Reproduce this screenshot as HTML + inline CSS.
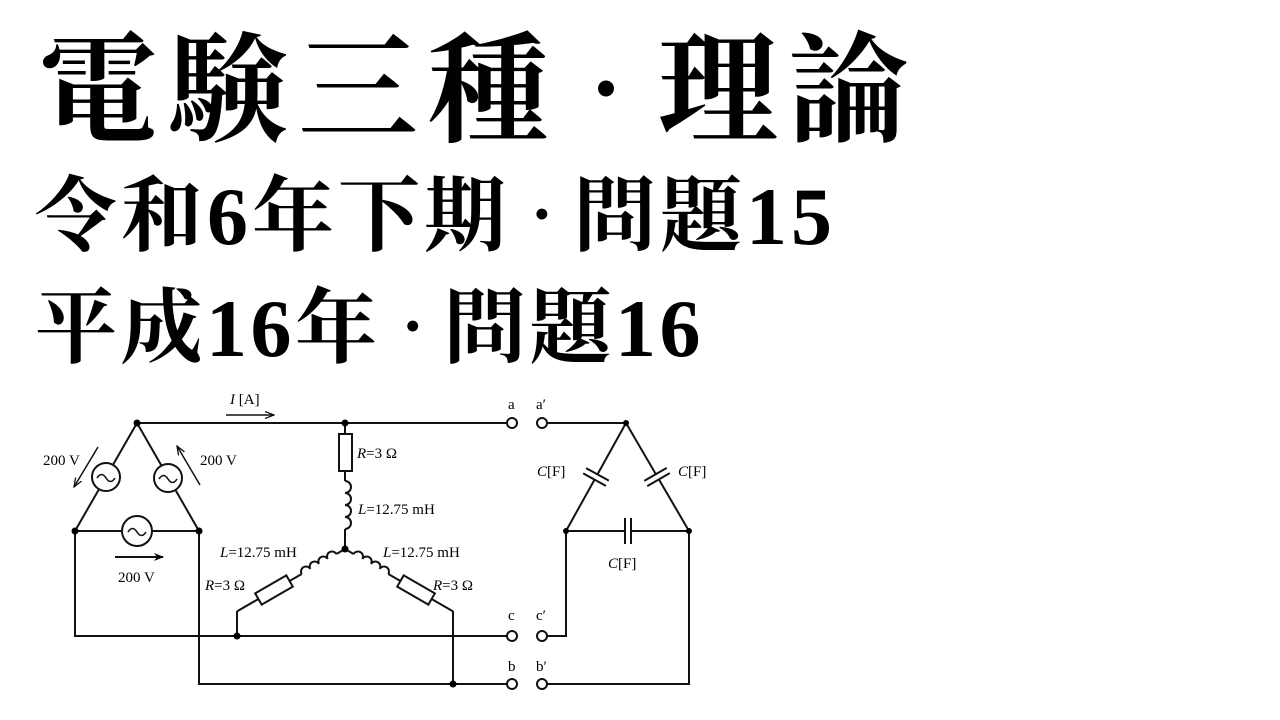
<!DOCTYPE html>
<html><head><meta charset="utf-8"><style>
html,body{margin:0;padding:0;background:#fff;}
body{width:1280px;height:720px;position:relative;overflow:hidden;}
.t{position:absolute;left:0;white-space:nowrap;font-family:"Liberation Serif","Noto Serif CJK SC",serif;font-weight:700;color:#000;line-height:1;}
.d{display:inline-block;}
svg{position:absolute;left:0;top:0;}
svg text{font-family:"Liberation Serif","Noto Serif CJK SC",serif;font-size:15px;fill:#000;}
</style></head><body>
<div class="t" style="top:32px;left:38px;font-size:120px;letter-spacing:10px;">電験三種<span class="d" style="margin:0 -16px 0 -14px;transform:scale(0.6);">・</span>理論</div>
<div class="t" style="top:176px;left:35px;font-size:82px;letter-spacing:4px;">令和6年下期<span class="d" style="margin:0 -12px 0 -10px;transform:scale(0.6);">・</span>問題15</div>
<div class="t" style="top:288px;left:35px;font-size:82px;letter-spacing:3.5px;">平成16年<span class="d" style="margin:0 -12px 0 -10px;transform:scale(0.6);">・</span>問題16</div>
<svg width="1280" height="720" viewBox="0 0 1280 720">
<defs>
<marker id="ah" markerWidth="10" markerHeight="8" refX="9" refY="4" orient="auto" markerUnits="userSpaceOnUse"><path d="M0,0 L10,4 L0,8 L3,4 z" fill="#000"/></marker>
<marker id="ao" markerWidth="10" markerHeight="8" refX="9" refY="4" orient="auto" markerUnits="userSpaceOnUse"><path d="M0,0.5 L9,4 L0,7.5" fill="none" stroke="#000" stroke-width="1.2"/></marker>
</defs>
<g stroke="#111" stroke-width="2" fill="none">
<line x1="137" y1="423" x2="75" y2="531"/>
<line x1="137" y1="423" x2="199" y2="531"/>
<line x1="75" y1="531" x2="199" y2="531"/>
<circle cx="106" cy="477" r="14" fill="#fff"/>
<circle cx="168" cy="478" r="14" fill="#fff"/>
<circle cx="137" cy="531" r="15" fill="#fff"/>
<path d="M97 478 q4.5 -7 9 0 t9 0" stroke-width="1.6"/>
<path d="M159 479 q4.5 -7 9 0 t9 0" stroke-width="1.6"/>
<path d="M128 532 q4.5 -7 9 0 t9 0" stroke-width="1.6"/>
<line x1="137" y1="423" x2="507" y2="423"/>
<polyline points="75,531 75,636 507,636"/>
<polyline points="199,531 199,684 507,684"/>
<line x1="345" y1="423" x2="345" y2="434"/>
<rect x="339" y="434" width="13" height="37" fill="#fff"/>
<line x1="345" y1="471" x2="345" y2="481"/>
<path d="M345 481 a6 6 0 0 1 0 12 a6 6 0 0 1 0 12 a6 6 0 0 1 0 12 a6 6 0 0 1 0 12"/>
<line x1="345" y1="529" x2="345" y2="549"/>
<g transform="translate(345,549) rotate(150)">
<line x1="0" y1="0" x2="10" y2="0"/>
<path d="M10 0 a5 5 0 0 0 10 0 a5 5 0 0 0 10 0 a5 5 0 0 0 10 0 a5 5 0 0 0 10 0"/>
<line x1="50" y1="0" x2="64" y2="0"/>
<rect x="64" y="-6.5" width="36" height="13" fill="#fff"/>
<line x1="100" y1="0" x2="124.5" y2="0"/>
</g>
<g transform="translate(345,549) rotate(30)">
<line x1="0" y1="0" x2="10" y2="0"/>
<path d="M10 0 a5 5 0 0 1 10 0 a5 5 0 0 1 10 0 a5 5 0 0 1 10 0 a5 5 0 0 1 10 0"/>
<line x1="50" y1="0" x2="64" y2="0"/>
<rect x="64" y="-6.5" width="36" height="13" fill="#fff"/>
<line x1="100" y1="0" x2="124.5" y2="0"/>
</g>
<line x1="237" y1="611" x2="237" y2="636"/>
<line x1="453" y1="611" x2="453" y2="684"/>
<circle cx="512" cy="423" r="5" fill="#fff"/>
<circle cx="542" cy="423" r="5" fill="#fff"/>
<circle cx="512" cy="636" r="5" fill="#fff"/>
<circle cx="542" cy="636" r="5" fill="#fff"/>
<circle cx="512" cy="684" r="5" fill="#fff"/>
<circle cx="542" cy="684" r="5" fill="#fff"/>
<line x1="547" y1="423" x2="626" y2="423"/>
<polyline points="547,636 566,636 566,531"/>
<polyline points="547,684 689,684 689,531"/>
<line x1="626" y1="423" x2="566" y2="531"/>
<line x1="626" y1="423" x2="689" y2="531"/>
<line x1="566" y1="531" x2="689" y2="531"/>
<g transform="translate(596,477) rotate(119)">
<rect x="-3" y="-13" width="6" height="26" fill="#fff" stroke="none"/>
<line x1="-3" y1="-13" x2="-3" y2="13"/><line x1="3" y1="-13" x2="3" y2="13"/>
</g>
<g transform="translate(657,477) rotate(60)">
<rect x="-3" y="-13" width="6" height="26" fill="#fff" stroke="none"/>
<line x1="-3" y1="-13" x2="-3" y2="13"/><line x1="3" y1="-13" x2="3" y2="13"/>
</g>
<g transform="translate(628,531)">
<rect x="-3" y="-13" width="6" height="26" fill="#fff" stroke="none"/>
<line x1="-3" y1="-13" x2="-3" y2="13"/><line x1="3" y1="-13" x2="3" y2="13"/>
</g>
<line x1="98" y1="447" x2="74" y2="487" stroke-width="1.5" marker-end="url(#ao)"/>
<line x1="200" y1="485" x2="177" y2="446" stroke-width="1.5" marker-end="url(#ao)"/>
<line x1="115" y1="557" x2="163" y2="557" stroke-width="2" marker-end="url(#ah)"/>
<line x1="226" y1="415" x2="274" y2="415" stroke-width="1.5" marker-end="url(#ao)"/>
</g>
<g fill="#000">
<circle cx="137" cy="423" r="3.5"/><circle cx="75" cy="531" r="3.5"/><circle cx="199" cy="531" r="3.5"/>
<circle cx="345" cy="423" r="3.5"/><circle cx="345" cy="549" r="3.5"/>
<circle cx="237" cy="636" r="3.5"/><circle cx="453" cy="684" r="3.5"/>
<circle cx="626" cy="423" r="3"/><circle cx="566" cy="531" r="3"/><circle cx="689" cy="531" r="3"/>
</g>
<text x="43" y="465">200 V</text>
<text x="200" y="465">200 V</text>
<text x="118" y="582">200 V</text>
<text x="230" y="404"><tspan font-style="italic">I</tspan> [A]</text>
<text x="357" y="458"><tspan font-style="italic">R</tspan>=3 Ω</text>
<text x="358" y="514"><tspan font-style="italic">L</tspan>=12.75 mH</text>
<text x="220" y="557"><tspan font-style="italic">L</tspan>=12.75 mH</text>
<text x="383" y="557"><tspan font-style="italic">L</tspan>=12.75 mH</text>
<text x="205" y="590"><tspan font-style="italic">R</tspan>=3 Ω</text>
<text x="433" y="590"><tspan font-style="italic">R</tspan>=3 Ω</text>
<text x="537" y="476"><tspan font-style="italic">C</tspan>[F]</text>
<text x="678" y="476"><tspan font-style="italic">C</tspan>[F]</text>
<text x="608" y="568"><tspan font-style="italic">C</tspan>[F]</text>
<text x="508" y="409">a</text><text x="536" y="409">a′</text>
<text x="508" y="620">c</text><text x="536" y="620">c′</text>
<text x="508" y="671">b</text><text x="536" y="671">b′</text>
</svg>
</body></html>
